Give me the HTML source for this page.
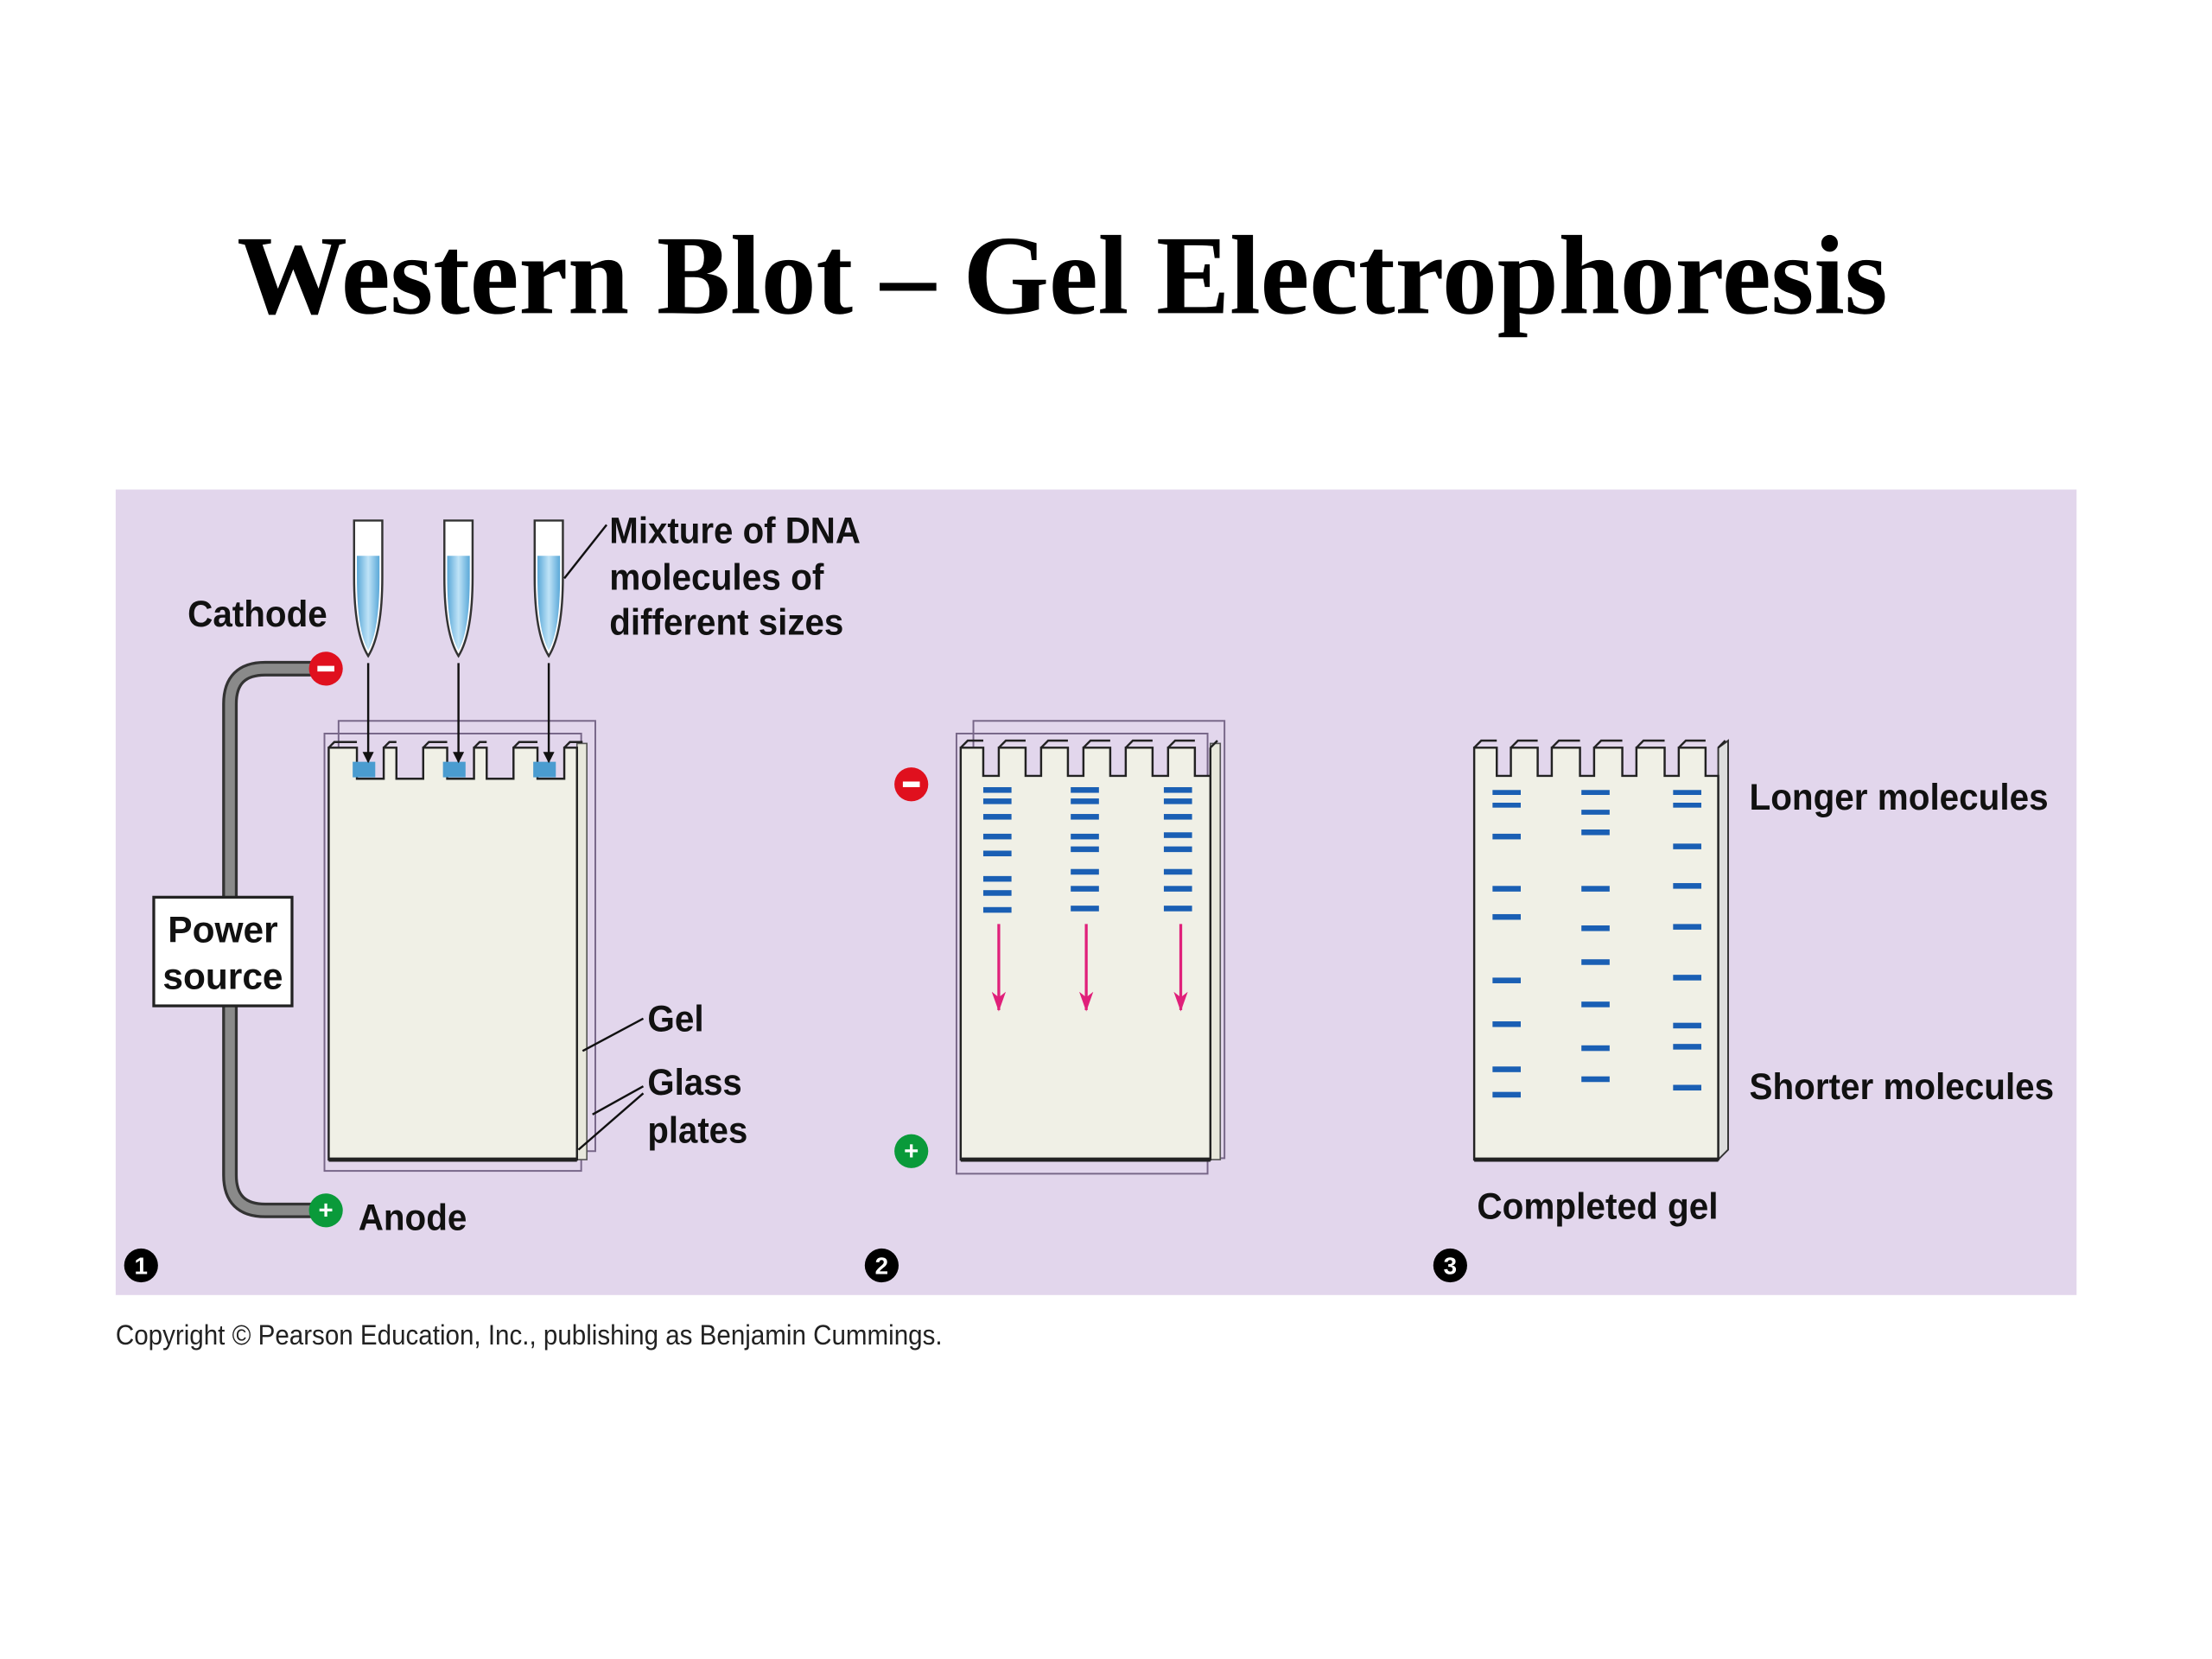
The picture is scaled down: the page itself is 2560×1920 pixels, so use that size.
<!DOCTYPE html>
<html><head><meta charset="utf-8"><style>
html,body{margin:0;padding:0;background:#fff;width:2560px;height:1920px;overflow:hidden}
svg{display:block}
.t{font-family:"Liberation Sans",sans-serif;font-weight:bold;font-size:26px;fill:#111}
</style></head><body>
<svg width="2560" height="1920" viewBox="0 0 1568 1176" xmlns="http://www.w3.org/2000/svg">
<defs>
<linearGradient id="tube" x1="0" x2="1"><stop offset="0" stop-color="#5aa8d8"/><stop offset="0.5" stop-color="#bfe3f7"/><stop offset="1" stop-color="#5aa8d8"/></linearGradient>
<marker id="ab" markerWidth="8" markerHeight="8" refX="7" refY="4" orient="auto" markerUnits="userSpaceOnUse"><path d="M0,0 L8,4 L0,8 Z" fill="#111"/></marker>
<marker id="ap" markerWidth="14" markerHeight="10" refX="13" refY="5" orient="auto" markerUnits="userSpaceOnUse"><path d="M0,0 L14,5 L0,10 L4,5 Z" fill="#e0207a"/></marker>
</defs>
<text x="753" y="222" text-anchor="middle" font-family="Liberation Serif,serif" font-weight="bold" font-size="80" textLength="1170" lengthAdjust="spacingAndGlyphs" fill="#000">Western Blot – Gel Electrophoresis</text>
<rect x="82" y="347" width="1390" height="571" fill="#e2d6ec"/>
<text x="82" y="953" font-family="Liberation Sans,sans-serif" font-size="20" textLength="586" lengthAdjust="spacingAndGlyphs" fill="#222">Copyright © Pearson Education, Inc., publishing as Benjamin Cummings.</text>

<path d="M231,474 L188,474 Q163,474 163,499 L163,833 Q163,858 188,858 L231,858" fill="none" stroke="#333" stroke-width="11"/>
<path d="M231,474 L188,474 Q163,474 163,499 L163,833 Q163,858 188,858 L231,858" fill="none" stroke="#8a8a8a" stroke-width="7"/>
<rect x="109" y="636" width="98" height="77" fill="#fff" stroke="#222" stroke-width="2"/>
<text class="t" x="158" y="668" text-anchor="middle">Power</text>
<text class="t" x="158" y="701" text-anchor="middle">source</text>
<circle cx="231" cy="474" r="12" fill="#e0101e"/><rect x="225" y="472" width="12" height="4" fill="#fff"/>
<circle cx="231" cy="858" r="12" fill="#0a9a3a"/><text x="231" y="864" text-anchor="middle" font-family="Liberation Sans" font-weight="bold" font-size="18" fill="#fff">+</text>
<text class="t" x="133" y="444" textLength="99" lengthAdjust="spacingAndGlyphs">Cathode</text>
<text class="t" x="254" y="872" textLength="77" lengthAdjust="spacingAndGlyphs">Anode</text>

<rect x="240" y="511" width="182" height="305" fill="none" stroke="#776688" stroke-width="1.2"/>
<rect x="230" y="520" width="182" height="310" fill="none" stroke="#776688" stroke-width="1.2"/>
<rect x="409" y="527" width="7" height="295" fill="#e8e8dc" stroke="#555" stroke-width="1"/>
<path d="M233,530 L253,530 L253,552 L272,552 L272,530 L281,530 L281,552 L300,552 L300,530 L317,530 L317,552 L336,552 L336,530 L345,530 L345,552 L364,552 L364,530 L381,530 L381,552 L400,552 L400,530 L409,530 L409,822 L233,822 Z" fill="#f0f0e6" stroke="#222" stroke-width="1.5"/>
<path d="M233,530 l4,-4 h16 M272,530 l4,-4 h5 M300,530 l4,-4 h13 M336,530 l4,-4 h5 M364,530 l4,-4 h13 M400,530 l4,-4 h9" stroke="#222" fill="none" stroke-width="1.5"/>
<line x1="233" y1="822" x2="409" y2="822" stroke="#222" stroke-width="3"/>
<rect x="250" y="540" width="16" height="11" fill="#4a9cd0"/><rect x="314" y="540" width="16" height="11" fill="#4a9cd0"/><rect x="378" y="540" width="16" height="11" fill="#4a9cd0"/>
<g>
<path d="M251,369 h20 v40 q0,40 -10,56 q-10,-16 -10,-56 Z" fill="#fff" stroke="#333" stroke-width="1.5"/>
<path d="M253,394 h16 v15 q0,38 -8,52 q-8,-14 -8,-52 Z" fill="url(#tube)"/>
<path d="M315,369 h20 v40 q0,40 -10,56 q-10,-16 -10,-56 Z" fill="#fff" stroke="#333" stroke-width="1.5"/>
<path d="M317,394 h16 v15 q0,38 -8,52 q-8,-14 -8,-52 Z" fill="url(#tube)"/>
<path d="M379,369 h20 v40 q0,40 -10,56 q-10,-16 -10,-56 Z" fill="#fff" stroke="#333" stroke-width="1.5"/>
<path d="M381,394 h16 v15 q0,38 -8,52 q-8,-14 -8,-52 Z" fill="url(#tube)"/>
</g>
<line x1="261" y1="470" x2="261" y2="540" stroke="#111" stroke-width="1.5" marker-end="url(#ab)"/>
<line x1="325" y1="470" x2="325" y2="540" stroke="#111" stroke-width="1.5" marker-end="url(#ab)"/>
<line x1="389" y1="470" x2="389" y2="540" stroke="#111" stroke-width="1.5" marker-end="url(#ab)"/>
<line x1="400" y1="410" x2="430" y2="372" stroke="#111" stroke-width="1.5"/>
<text class="t" x="432" y="385" textLength="178" lengthAdjust="spacingAndGlyphs">Mixture of DNA</text>
<text class="t" x="432" y="418" textLength="152" lengthAdjust="spacingAndGlyphs">molecules of</text>
<text class="t" x="432" y="450" textLength="166" lengthAdjust="spacingAndGlyphs">different sizes</text>
<line x1="413" y1="745" x2="456" y2="722" stroke="#111" stroke-width="1.5"/>
<line x1="420" y1="790" x2="456" y2="770" stroke="#111" stroke-width="1.5"/>
<line x1="410" y1="815" x2="456" y2="775" stroke="#111" stroke-width="1.5"/>
<text class="t" x="459" y="731" textLength="40" lengthAdjust="spacingAndGlyphs">Gel</text>
<text class="t" x="459" y="776" textLength="67" lengthAdjust="spacingAndGlyphs">Glass</text>
<text class="t" x="459" y="810" textLength="71" lengthAdjust="spacingAndGlyphs">plates</text>

<circle cx="646" cy="556" r="12" fill="#e0101e"/><rect x="640" y="554" width="12" height="4" fill="#fff"/>
<circle cx="646" cy="816" r="12" fill="#0a9a3a"/><text x="646" y="822" text-anchor="middle" font-family="Liberation Sans" font-weight="bold" font-size="18" fill="#fff">+</text>
<rect x="690" y="511" width="178" height="310" fill="none" stroke="#776688" stroke-width="1.2"/>
<rect x="678" y="520" width="178" height="312" fill="none" stroke="#776688" stroke-width="1.2"/>
<rect x="858" y="527" width="7" height="295" fill="#e8e8dc" stroke="#555" stroke-width="1"/>
<path d="M681,530 L697,530 L697,550 L708,550 L708,530 L727,530 L727,550 L738,550 L738,530 L757,530 L757,550 L768,550 L768,530 L787,530 L787,550 L798,550 L798,530 L817,530 L817,550 L828,550 L828,530 L847,530 L847,550 L858,550 L858,530 L858,822 L681,822 Z" fill="#f0f0e6" stroke="#222" stroke-width="1.5"/>
<path d="M681,530 l5,-5 h11 M708,530 l5,-5 h14 M738,530 l5,-5 h14 M768,530 l5,-5 h14 M798,530 l5,-5 h14 M828,530 l5,-5 h14 M858,530 l5,-5" stroke="#222" fill="none" stroke-width="1.5"/>
<line x1="681" y1="822" x2="858" y2="822" stroke="#222" stroke-width="3"/>
<g fill="#1a5fb4">
<rect x="697" y="558" width="20" height="4"/><rect x="697" y="566" width="20" height="4"/><rect x="697" y="577" width="20" height="4"/><rect x="697" y="591" width="20" height="4"/><rect x="697" y="603" width="20" height="4"/><rect x="697" y="621" width="20" height="4"/><rect x="697" y="631" width="20" height="4"/><rect x="697" y="643" width="20" height="4"/>
<rect x="759" y="558" width="20" height="4"/><rect x="759" y="566" width="20" height="4"/><rect x="759" y="577" width="20" height="4"/><rect x="759" y="591" width="20" height="4"/><rect x="759" y="600" width="20" height="4"/><rect x="759" y="616" width="20" height="4"/><rect x="759" y="628" width="20" height="4"/><rect x="759" y="642" width="20" height="4"/>
<rect x="825" y="558" width="20" height="4"/><rect x="825" y="566" width="20" height="4"/><rect x="825" y="577" width="20" height="4"/><rect x="825" y="590" width="20" height="4"/><rect x="825" y="600" width="20" height="4"/><rect x="825" y="616" width="20" height="4"/><rect x="825" y="628" width="20" height="4"/><rect x="825" y="642" width="20" height="4"/>
</g>
<line x1="708" y1="655" x2="708" y2="716" stroke="#e0207a" stroke-width="2" marker-end="url(#ap)"/>
<line x1="770" y1="655" x2="770" y2="716" stroke="#e0207a" stroke-width="2" marker-end="url(#ap)"/>
<line x1="837" y1="655" x2="837" y2="716" stroke="#e0207a" stroke-width="2" marker-end="url(#ap)"/>

<path d="M1218,530 l7,-5 v290 l-7,7 Z" fill="#ddd" stroke="#333" stroke-width="1.2"/>
<path d="M1045,530 L1061,530 L1061,550 L1071,550 L1071,530 L1090,530 L1090,550 L1100,550 L1100,530 L1120,530 L1120,550 L1130,550 L1130,530 L1150,530 L1150,550 L1160,550 L1160,530 L1180,530 L1180,550 L1190,550 L1190,530 L1209,530 L1209,550 L1218,550 L1218,822 L1045,822 Z" fill="#f0f0e6" stroke="#222" stroke-width="1.5"/>
<path d="M1045,530 l5,-5 h11 M1071,530 l5,-5 h14 M1100,530 l5,-5 h15 M1130,530 l5,-5 h15 M1160,530 l5,-5 h15 M1190,530 l5,-5 h14 M1218,530 l5,-5" stroke="#222" fill="none" stroke-width="1.5"/>
<line x1="1045" y1="822" x2="1218" y2="822" stroke="#222" stroke-width="3"/>
<g fill="#1a5fb4">
<rect x="1058" y="560" width="20" height="3.5"/><rect x="1058" y="569" width="20" height="3.5"/><rect x="1058" y="591" width="20" height="4"/><rect x="1058" y="628" width="20" height="4"/><rect x="1058" y="648" width="20" height="4"/><rect x="1058" y="693" width="20" height="4"/><rect x="1058" y="724" width="20" height="4"/><rect x="1058" y="756" width="20" height="4"/><rect x="1058" y="774" width="20" height="4"/>
<rect x="1121" y="560" width="20" height="3.5"/><rect x="1121" y="574" width="20" height="3.5"/><rect x="1121" y="588" width="20" height="4"/><rect x="1121" y="628" width="20" height="4"/><rect x="1121" y="656" width="20" height="4"/><rect x="1121" y="680" width="20" height="4"/><rect x="1121" y="710" width="20" height="4"/><rect x="1121" y="741" width="20" height="4"/><rect x="1121" y="763" width="20" height="4"/>
<rect x="1186" y="560" width="20" height="3.5"/><rect x="1186" y="569" width="20" height="3.5"/><rect x="1186" y="598" width="20" height="4"/><rect x="1186" y="626" width="20" height="4"/><rect x="1186" y="655" width="20" height="4"/><rect x="1186" y="691" width="20" height="4"/><rect x="1186" y="725" width="20" height="4"/><rect x="1186" y="740" width="20" height="4"/><rect x="1186" y="769" width="20" height="4"/>
</g>
<text class="t" x="1240" y="574" textLength="212" lengthAdjust="spacingAndGlyphs">Longer molecules</text>
<text class="t" x="1240" y="779" textLength="216" lengthAdjust="spacingAndGlyphs">Shorter molecules</text>
<text class="t" x="1047" y="864" textLength="171" lengthAdjust="spacingAndGlyphs">Completed gel</text>

<g font-family="Liberation Sans" font-weight="bold" font-size="17" fill="#fff" text-anchor="middle">
<circle cx="100" cy="897" r="12" fill="#000"/><text x="100" y="903">1</text>
<circle cx="625" cy="897" r="12" fill="#000"/><text x="625" y="903">2</text>
<circle cx="1028" cy="897" r="12" fill="#000"/><text x="1028" y="903">3</text>
</g>
</svg>
</body></html>
